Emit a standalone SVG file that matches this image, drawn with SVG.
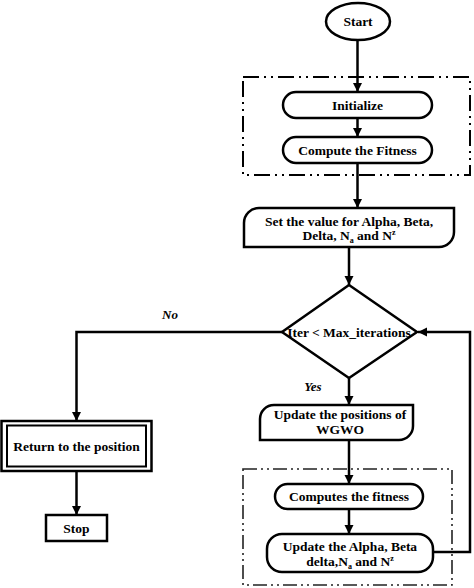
<svg xmlns="http://www.w3.org/2000/svg" width="474" height="588" viewBox="0 0 474 588">
<defs>
<marker id="ah" markerUnits="userSpaceOnUse" markerWidth="10" markerHeight="10" refX="9" refY="4.5" orient="auto">
<path d="M0,0 L9,4.5 L0,9 Z" fill="#000"/>
</marker>
<style>
.s{fill:#fff;stroke:#000;stroke-width:2.5}
.t{font-family:"Liberation Serif","Times New Roman",serif;font-weight:bold;font-size:13.5px;text-anchor:middle;fill:#000}
.l{font-family:"Liberation Serif","Times New Roman",serif;font-weight:bold;font-style:italic;font-size:13px;text-anchor:middle;fill:#000}
.c{fill:none;stroke:#000;stroke-width:2.5}
.g{fill:none;stroke:#000;stroke-width:2;stroke-dasharray:16 5 2 5 2 5}
.g2{fill:none;stroke:#222;stroke-width:1.6;stroke-dasharray:14 4 2 4 2 4}
</style>
</defs>
<rect class="g" x="243" y="77" width="227" height="98"/>
<rect class="g2" x="243" y="469" width="209" height="116"/>
<g id="connectors">
<line class="c" x1="357.5" y1="40" x2="357.5" y2="92" marker-end="url(#ah)"/>
<line class="c" x1="357.5" y1="118" x2="357.5" y2="137" marker-end="url(#ah)"/>
<line class="c" x1="357.5" y1="163" x2="357.5" y2="208" marker-end="url(#ah)"/>
<line class="c" x1="349" y1="247" x2="349" y2="285" marker-end="url(#ah)"/>
<line class="c" x1="349" y1="378" x2="349" y2="405" marker-end="url(#ah)"/>
<polyline class="c" points="282,332 76.5,332 76.5,421" marker-end="url(#ah)"/>
<line class="c" x1="76.5" y1="471" x2="76.5" y2="515" marker-end="url(#ah)"/>
<line class="c" x1="349" y1="440" x2="349" y2="484" marker-end="url(#ah)"/>
<line class="c" x1="349" y1="509" x2="349" y2="534" marker-end="url(#ah)"/>
<polyline class="c" points="433,552 470,552 470,332 418,332" marker-end="url(#ah)"/>
<text class="l" x="170" y="319">No</text>
<text class="l" x="313" y="391">Yes</text>
</g>
<g id="start">
<ellipse class="s" cx="358" cy="21.5" rx="32" ry="18.5"/>
<text class="t" x="358" y="26">Start</text>
</g>
<g id="initialize">
<rect class="s" x="283" y="92" width="149" height="26" rx="13"/>
<text class="t" x="357.5" y="109.5">Initialize</text>
</g>
<g id="compute">
<rect class="s" x="283" y="137" width="149" height="26" rx="13"/>
<text class="t" x="357.5" y="154.5">Compute the Fitness</text>
</g>
<g id="setvalue">
<path class="s" d="M244,247 L244,223 A15,15 0 0 1 259,208 L454,208 L454,232 A15,15 0 0 1 439,247 Z"/>
<text class="t" x="349" y="226">Set the value for Alpha, Beta,</text>
<text class="t" x="349" y="240">Delta, N<tspan font-size="8" dy="3">a</tspan><tspan dy="-3"> and N</tspan><tspan font-size="8" dy="-5">z</tspan></text>
</g>
<g id="decision">
<polygon class="s" points="349,285 417,332 349,378 282,332"/>
<text class="t" x="349" y="337">Iter &lt; Max_iterations</text>
</g>
<g id="return">
<rect class="s" x="1.5" y="421" width="150" height="50"/>
<rect fill="none" stroke="#000" stroke-width="2" x="7" y="425.5" width="139" height="41"/>
<text class="t" x="76.5" y="450.5">Return to the position</text>
</g>
<g id="stop">
<rect class="s" x="46" y="515" width="61" height="26"/>
<text class="t" x="76.5" y="532.5">Stop</text>
</g>
<g id="updatepos">
<path class="s" d="M260,440 L260,419 A14,14 0 0 1 274,405 L413,405 L413,426 A14,14 0 0 1 399,440 Z"/>
<text class="t" x="340" y="419">Update the positions of</text>
<text class="t" x="340" y="433.5">WGWO</text>
</g>
<g id="computes">
<rect class="s" x="275" y="484" width="148" height="25" rx="12.5"/>
<text class="t" x="349" y="501">Computes the fitness</text>
</g>
<g id="updatealpha">
<rect class="s" x="267" y="534" width="166" height="38" rx="15"/>
<text class="t" x="350" y="551">Update the Alpha, Beta</text>
<text class="t" x="350" y="566">delta,N<tspan font-size="8" dy="3">a</tspan><tspan dy="-3"> and N</tspan><tspan font-size="8" dy="-5">z</tspan></text>
</g>
</svg>
